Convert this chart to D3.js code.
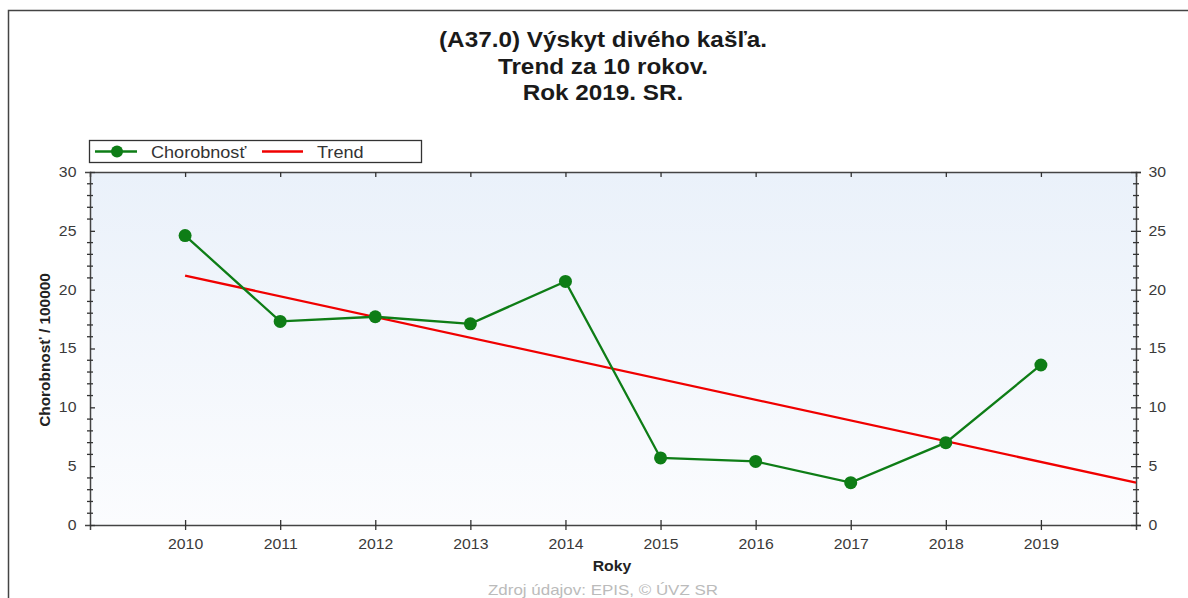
<!DOCTYPE html>
<html>
<head>
<meta charset="utf-8">
<script src="https://cdn.jsdelivr.net/npm/d3@7"></script>
<style>
  body { margin: 0; background: #fff; }
  text { font-family: "Liberation Sans", Arial, sans-serif; }
</style>
</head>
<body>
<div id="chart"></div>
<script>
// data
var years = [2010, 2011, 2012, 2013, 2014, 2015, 2016, 2017, 2018, 2019];
var chorobnost = [24.6, 17.3, 17.7, 17.1, 20.7, 5.7, 5.4, 3.6, 7.0, 13.6];
var trendYears = [2010, 2020];
var trendValues = [21.2, 3.6];
var yTicks = [0, 5, 10, 15, 20, 25, 30];
var titleLines = ["(A37.0) Výskyt divého kašľa.", "Trend za 10 rokov.", "Rok 2019. SR."];

var width = 1188, height = 598;
var margin = {top: 172, right: 52, bottom: 73, left: 90};
var plotW = width - margin.left - margin.right;
var plotH = height - margin.top - margin.bottom;
var sx = 1.13;   // the original text looks a bit wide

var svg = d3.select("#chart")
    .append("svg")
    .attr("width", width)
    .attr("height", height);

// text helper, slightly stretched in x
function label(parent, x, y, txt, size, weight, anchor, fill, rot) {
    var t = "translate(" + x + "," + y + ")" + (rot ? " rotate(" + rot + ")" : "") + " scale(" + sx + ",1)";
    return parent.append("text")
        .attr("transform", t)
        .attr("text-anchor", anchor || "middle")
        .style("font-size", size + "px")
        .style("font-weight", weight || "normal")
        .attr("fill", fill || "#222")
        .text(txt);
}

// outer frame
svg.append("rect")
    .attr("x", 8.5).attr("y", 10.5)
    .attr("width", 1200).attr("height", 700)
    .attr("fill", "none")
    .attr("stroke", "#444")
    .attr("stroke-width", 1.5);

// title
titleLines.forEach(function (d, i) {
    label(svg, 603, 47 + i * 26.5, d, 21.5, "bold", "middle", "#1a1a1a");
});

var x = d3.scaleLinear().domain([2009, 2020]).range([0, plotW]);
var y = d3.scaleLinear().domain([0, 30]).range([plotH, 0]);

// background gradient
var defs = svg.append("defs");
var grad = defs.append("linearGradient")
    .attr("id", "bg")
    .attr("x1", 0).attr("y1", 0).attr("x2", 0).attr("y2", 1);
grad.append("stop").attr("offset", "0%").attr("stop-color", "#eaf1fa");
grad.append("stop").attr("offset", "100%").attr("stop-color", "#fbfcfe");

var g = svg.append("g")
    .attr("transform", "translate(" + margin.left + "," + margin.top + ")");

g.append("rect")
    .attr("width", plotW).attr("height", plotH)
    .attr("fill", "url(#bg)");

// axes
var tickColor = "#333";
var minorTicks = d3.range(0, 31, 1);

// bottom axis
var xAxis = g.append("g")
    .attr("transform", "translate(0," + plotH + ")")
    .call(d3.axisBottom(x).tickValues(years).tickFormat(d3.format("d")).tickSize(5).tickPadding(9));
xAxis.selectAll(".tick line").attr("y1", -5);
// top axis
var xTop = g.append("g")
    .call(d3.axisTop(x).tickValues(years).tickFormat("").tickSize(-5));
// left axis
var yLeft = g.append("g")
    .call(d3.axisLeft(y).tickValues(yTicks).tickSize(5).tickPadding(7));
yLeft.selectAll(".tick line").attr("x2", 5);
// right axis
var yRight = g.append("g")
    .attr("transform", "translate(" + plotW + ",0)")
    .call(d3.axisRight(y).tickValues(yTicks).tickSize(5).tickPadding(6));
yRight.selectAll(".tick line").attr("x1", -5);

[xAxis, xTop, yLeft, yRight].forEach(function (a) {
    a.select(".domain").attr("stroke", "#444").attr("stroke-width", 1.5);
    a.selectAll(".tick line").attr("stroke", tickColor).attr("stroke-width", 1.3);
    a.selectAll(".tick text")
        .attr("fill", "#3a3a3a")
        .style("font-size", "14px")
        .style("font-family", "'Liberation Sans', Arial, sans-serif")
        .attr("transform", "scale(" + sx + ",1)");
});

// minor ticks on both y axes
[0, plotW].forEach(function (xx) {
    g.append("g")
        .selectAll("line")
        .data(minorTicks.filter(function (d) { return d % 5 !== 0; }))
        .enter()
        .append("line")
        .attr("x1", xx - 3).attr("x2", xx + 3)
        .attr("y1", function (d) { return y(d); })
        .attr("y2", function (d) { return y(d); })
        .attr("stroke", tickColor)
        .attr("stroke-width", 1.3);
});

// trend line
var line = d3.line()
    .x(function (d) { return x(d[0]); })
    .y(function (d) { return y(d[1]); });

g.append("path")
    .datum(d3.zip(trendYears, trendValues))
    .attr("d", line)
    .attr("fill", "none")
    .attr("stroke", "#f00000")
    .attr("stroke-width", 2.3);

// chorobnost series
var green = "#0e7d16";
g.append("path")
    .datum(d3.zip(years, chorobnost))
    .attr("d", line)
    .attr("fill", "none")
    .attr("stroke", green)
    .attr("stroke-width", 2.3);

g.append("g")
    .selectAll("circle")
    .data(d3.zip(years, chorobnost))
    .enter()
    .append("circle")
    .attr("cx", function (d) { return x(d[0]); })
    .attr("cy", function (d) { return y(d[1]); })
    .attr("r", 6.5)
    .attr("fill", green);

// legend
var legend = svg.append("g").attr("transform", "translate(89,140)");
legend.append("rect")
    .attr("x", 0.5).attr("y", 0.5)
    .attr("width", 332).attr("height", 22)
    .attr("fill", "#fff")
    .attr("stroke", "#333")
    .attr("stroke-width", 1.3);
legend.append("line")
    .attr("x1", 6).attr("x2", 48).attr("y1", 11.5).attr("y2", 11.5)
    .attr("stroke", green).attr("stroke-width", 2.3);
legend.append("circle")
    .attr("cx", 28).attr("cy", 11.5).attr("r", 6).attr("fill", green);
label(legend, 62, 17.5, "Chorobnosť", 16, "normal", "start", "#333");
legend.append("line")
    .attr("x1", 173).attr("x2", 214).attr("y1", 11.5).attr("y2", 11.5)
    .attr("stroke", "#f00000").attr("stroke-width", 2.3);
label(legend, 228, 17.5, "Trend", 16, "normal", "start", "#333");

// axis titles
label(svg, 612, 571, "Roky", 14, "bold", "middle", "#222");

svg.append("text")
    .attr("transform", "translate(50,350) rotate(-90) scale(1.1,1.05)")
    .attr("text-anchor", "middle")
    .style("font-size", "14px")
    .style("font-weight", "bold")
    .attr("fill", "#222")
    .text("Chorobnosť / 100000");

// source
label(svg, 603, 595, "Zdroj údajov: EPIS, © ÚVZ SR", 15, "normal", "middle", "#bbbbbb");
</script>
</body>
</html>
